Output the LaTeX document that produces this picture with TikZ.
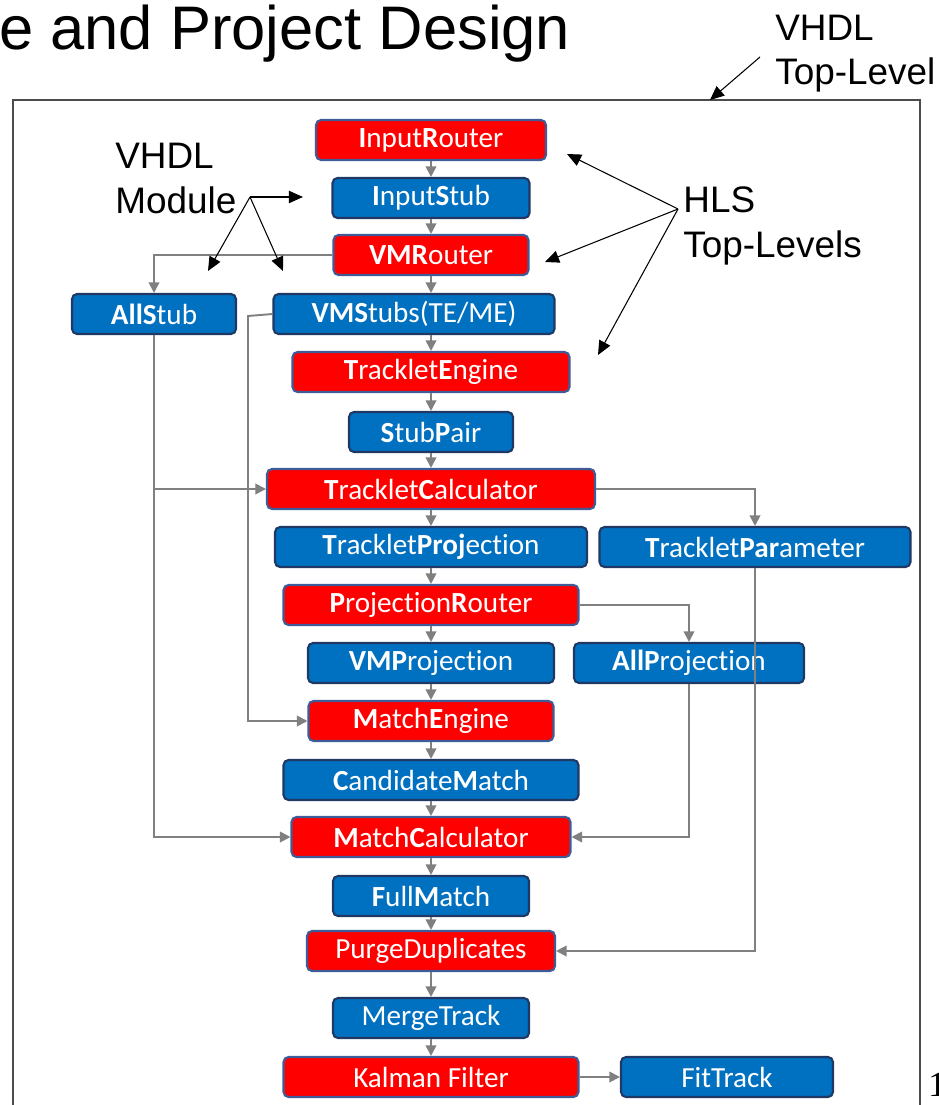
\documentclass[tikz,border=0pt]{standalone}
\usepackage{fontspec}
\setmainfont{Liberation Sans}
\newfontfamily\boxfont{Carlito}[Ligatures=NoCommon]
\newfontfamily\pagefont{Liberation Serif}
\usetikzlibrary{arrows.meta,positioning}
\definecolor{hlsred}{HTML}{FF0000}
\definecolor{modblue}{HTML}{0070C0}
\definecolor{hlsedge}{HTML}{3F5C99}
\definecolor{modedge}{HTML}{1F3864}
\definecolor{wiregray}{HTML}{808080}
\tikzset{
  hlsbox/.style={
    draw = hlsedge,
    fill = hlsred,
    line width = 1.2pt,
    rounded corners = 0.1cm,
    inner sep = 0pt,
    minimum height = 0.8cm,
    text = white,
    font = \boxfont\fontsize{16.6}{18}\selectfont
  },
  modbox/.style={
    hlsbox,
    draw = modedge,
    fill = modblue
  },
  wire/.style={
    draw = wiregray,
    line width = 1.1pt,
    -{Triangle[length=6pt,width=6pt]}
  },
  pointer/.style={
    line width = 0.6pt,
    -{Triangle[length=8pt,width=7pt]}
  },
  remark/.style={
    align = left,
    anchor = base west,
    inner sep = 0pt,
    font = \fontsize{21}{25.5}\selectfont
  }
}

\begin{document}
\begin{tikzpicture}[x=0.02cm,y=-0.02cm]
    \useasboundingbox (0,0) rectangle (938,1105);
    \draw[line width=0.8pt, black!70] (13,1110) |- (920,100) -- (920,1110);
    \node[anchor=base west, inner sep=0pt, font=\fontsize{35}{40}\selectfont] (title) at (-1,50) {e and Project Design};
    \node[anchor=base west, inner sep=0pt, font=\pagefont\fontsize{20}{24}\selectfont] (pageNo) at (928,1096) {1};

    % main chain
    \node[hlsbox, minimum width=4.6cm] (inRouter) at (431,140) {\textbf{I}nput\textbf{R}outer};
    \node[modbox, minimum width=3.94cm] (inStub) at (431,198) {\textbf{I}nput\textbf{S}tub};
    \node[hlsbox, minimum width=3.9cm] (vmRouter) at (431,255) {\textbf{VMR}outer};
    \node[modbox, minimum width=3.28cm] (allStub) at (154,314) {\textbf{All}\textbf{S}tub};
    \node[modbox, minimum width=5.62cm] (vmStubs) at (414,314) {\textbf{VMS}tubs(TE/ME)};
    \node[hlsbox, minimum width=5.54cm] (tEngine) at (431,372) {\textbf{T}racklet\textbf{E}ngine};
    \node[modbox, minimum width=3.28cm] (stubPair) at (431,432) {\textbf{S}tub\textbf{P}air};
    \node[hlsbox, minimum width=6.56cm] (tCalc) at (431,489) {\textbf{T}racklet\textbf{C}alculator};
    \node[modbox, minimum width=6.24cm] (tProj) at (431,547) {\textbf{T}racklet\textbf{Proj}ection};
    \node[modbox, minimum width=6.22cm] (tPar) at (755,547) {\textbf{T}racklet\textbf{Par}ameter};
    \node[hlsbox, minimum width=5.9cm] (pRouter) at (431,605) {\textbf{P}rojection\textbf{R}outer};
    \node[modbox, minimum width=4.92cm] (vmProj) at (431,663) {\textbf{VMP}rojection};
    \node[modbox, minimum width=4.6cm] (allProj) at (689,663) {\textbf{AllP}rojection};
    \node[hlsbox, minimum width=4.9cm] (mEngine) at (431,721) {\textbf{M}atch\textbf{E}ngine};
    \node[modbox, minimum width=5.9cm] (candMatch) at (431,780) {\textbf{C}andidate\textbf{M}atch};
    \node[hlsbox, minimum width=5.58cm] (mCalc) at (431,837) {\textbf{M}atch\textbf{C}alculator};
    \node[modbox, minimum width=3.92cm] (fullMatch) at (431,896) {\textbf{F}ull\textbf{M}atch};
    \node[hlsbox, minimum width=4.96cm] (purge) at (431,951) {PurgeDuplicates};
    \node[modbox, minimum width=3.92cm] (mergeTrack) at (431,1018) {MergeTrack};
    \node[hlsbox, minimum width=5.9cm] (kalman) at (431,1077) {Kalman Filter};
    \node[modbox, minimum width=4.24cm] (fitTrack) at (727,1077) {FitTrack};

    \foreach \a/\b in {inRouter/inStub, inStub/vmRouter, vmRouter/vmStubs, tEngine/stubPair,
        stubPair/tCalc, tCalc/tProj, tProj/pRouter, pRouter/vmProj, vmProj/mEngine,
        mEngine/candMatch, candMatch/mCalc, mCalc/fullMatch, fullMatch/purge,
        purge/mergeTrack, mergeTrack/kalman}
        \draw[wire] (\a) -- (\a |- \b.north);
    \draw[wire] (vmStubs.south -| tEngine) -- (tEngine);

    % side wires
    \coordinate (vmTap) at (248,316);
    \draw[wire] (vmRouter.west) -| (allStub.north);
    \draw[wire] (allStub.south) |- (mCalc.west);
    \draw[wire] (allStub.south |- tCalc.west) -- (tCalc.west);
    \draw[wire] (vmStubs.west) -- (vmTap) |- (mEngine.west);
    \draw[wire] (tCalc.east) -| (tPar.north);
    \draw[wire] (tPar.south) |- (purge.east);
    \draw[wire] (pRouter.east) -| (allProj.north);
    \draw[wire] (allProj.south) |- (mCalc.east);
    \draw[wire] (kalman) -- (fitTrack);

    % annotations
    \node[remark] (topNote) at (775,85) {VHDL\\Top-Level};
    \node[remark] (modNote) at (115,213) {VHDL\\Module};
    \node[remark] (hlsNote) at (683,257) {HLS\\Top-Levels};
    \coordinate (topFrom) at (760,57);
    \coordinate (topTo) at (710,100);
    \coordinate (modFrom) at (250,197);
    \coordinate (modTo1) at (303,197);
    \coordinate (modTo2) at (208,271);
    \coordinate (modTo3) at (283,271);
    \coordinate (hlsFrom) at (678,209);
    \coordinate (hlsTo1) at (567,154);
    \coordinate (hlsTo2) at (545,262);
    \coordinate (hlsTo3) at (598,355);
    \draw[pointer] (topFrom) -- (topTo);
    \foreach \t in {modTo1,modTo2,modTo3}
        \draw[pointer] (modFrom) -- (\t);
    \foreach \t in {hlsTo1,hlsTo2,hlsTo3}
        \draw[pointer] (hlsFrom) -- (\t);
\end{tikzpicture}
\end{document}
